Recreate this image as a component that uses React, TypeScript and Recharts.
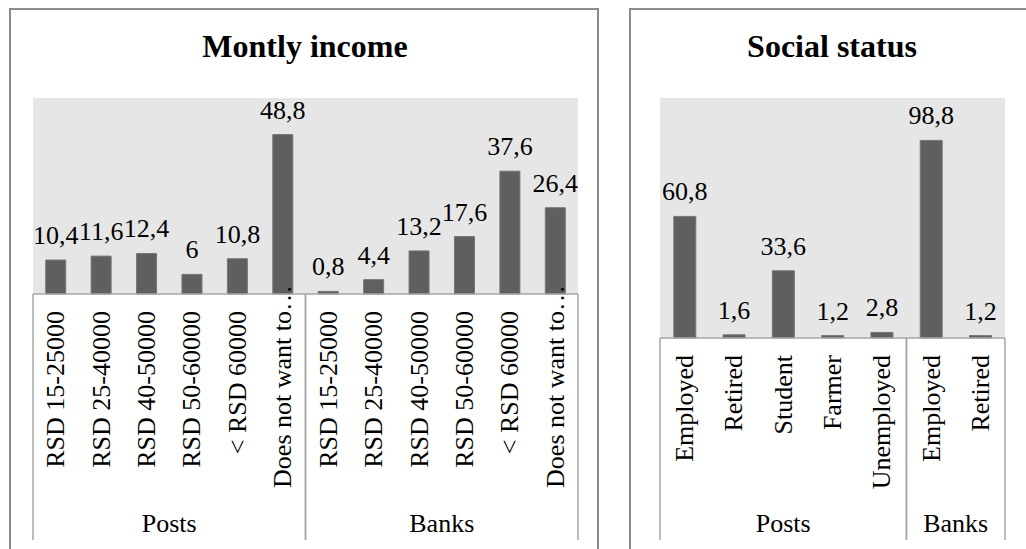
import { BarChart, Bar, XAxis, YAxis, CartesianGrid, LabelList } from 'recharts'

// Monthly income, % of respondents
const incomeCategories = ['RSD 15-25000', 'RSD 25-40000', 'RSD 40-50000', 'RSD 50-60000', '< RSD 60000', 'Does not want to…']
const incomePosts = [10.4, 11.6, 12.4, 6, 10.8, 48.8]
const incomeBanks = [0.8, 4.4, 13.2, 17.6, 37.6, 26.4]

// Social status, % of respondents
const statusPostsCategories = ['Employed', 'Retired', 'Student', 'Farmer', 'Unemployed']
const statusPosts = [60.8, 1.6, 33.6, 1.2, 2.8]
const statusBanksCategories = ['Employed', 'Retired']
const statusBanks = [98.8, 1.2]

type Row = { id: string; label: string; group: string; value: number }

function buildRows(groups: Array<{ name: string; labels: string[]; values: number[] }>): Row[] {
  return groups.flatMap((g) =>
    g.labels.map((label, i) => ({ id: `${g.name}-${i}`, label, group: g.name, value: g.values[i] }))
  )
}

const incomeRows = buildRows([
  { name: 'Posts', labels: incomeCategories, values: incomePosts },
  { name: 'Banks', labels: incomeCategories, values: incomeBanks },
])

const statusRows = buildRows([
  { name: 'Posts', labels: statusPostsCategories, values: statusPosts },
  { name: 'Banks', labels: statusBanksCategories, values: statusBanks },
])

const SERIF = "'Liberation Serif', 'Times New Roman', serif"
const AXIS_GRAY = '#a6a6a6'
const AXIS_BOTTOM = 540
const CHART_HEIGHT = 549

type PanelProps = {
  rows: Row[]
  left: number
  width: number
  plotLeft: number
  plotRight: number
  plotBottom: number
  yMax: number
}

function GroupedBarPanel({ rows, left, width, plotLeft, plotRight, plotBottom, yMax }: PanelProps) {
  const band = (plotRight - plotLeft) / rows.length

  // rotated category label plus the outer group row (separators and group name)
  const renderTick = (props: any) => {
    const { x, payload } = props
    const idx = rows.findIndex((r) => r.id === payload.value)
    if (idx < 0) return <g />
    const row = rows[idx]
    const first = idx === 0 || rows[idx - 1].group !== row.group
    const last = idx === rows.length - 1 || rows[idx + 1].group !== row.group
    const size = rows.filter((r) => r.group === row.group).length
    const ty = plotBottom + 17
    const truncated = row.label.endsWith('…')
    const text = truncated ? row.label.slice(0, -1) : row.label
    return (
      <g>
        <text
          x={x}
          y={ty}
          transform={`rotate(-90 ${x} ${ty})`}
          textAnchor="end"
          dominantBaseline="central"
          fontFamily={SERIF}
          fontSize={26}
          fill="#000"
        >
          {text}
        </text>
        {truncated && (
          <text
            x={x}
            y={ty}
            transform={`rotate(-90 ${x} ${ty})`}
            textAnchor="start"
            dominantBaseline="central"
            fontFamily={SERIF}
            fontSize={26}
            fill="#000"
          >
            …
          </text>
        )}
        {first && (
          <line x1={x - band / 2} x2={x - band / 2} y1={plotBottom} y2={AXIS_BOTTOM} stroke={AXIS_GRAY} strokeWidth={1.5} />
        )}
        {last && (
          <line x1={x + band / 2} x2={x + band / 2} y1={plotBottom} y2={AXIS_BOTTOM} stroke={AXIS_GRAY} strokeWidth={1.5} />
        )}
        {first && (
          <text
            x={x + ((size - 1) * band) / 2}
            y={AXIS_BOTTOM - 8}
            textAnchor="middle"
            fontFamily={SERIF}
            fontSize={26}
            fill="#000"
          >
            {row.group}
          </text>
        )}
      </g>
    )
  }

  return (
    <div style={{ position: 'absolute', left, top: 0 }}>
      <BarChart
        width={width}
        height={CHART_HEIGHT}
        data={rows}
        margin={{ top: 98, left: plotLeft, right: width - plotRight, bottom: CHART_HEIGHT - AXIS_BOTTOM }}
        barCategoryGap="28%"
      >
        <CartesianGrid fill="#e6e6e6" stroke="none" horizontal={false} vertical={false} />
        <XAxis
          dataKey="id"
          interval={0}
          height={AXIS_BOTTOM - plotBottom}
          tickLine={false}
          tickSize={0}
          tickMargin={0}
          axisLine={{ stroke: AXIS_GRAY, strokeWidth: 1.5 }}
          tick={renderTick}
        />
        <YAxis hide width={0} domain={[0, yMax]} />
        <Bar dataKey="value" fill="#5f5f5f" stroke="#767676" strokeWidth={1} isAnimationActive={false}>
          <LabelList
            dataKey="value"
            position="top"
            offset={16}
            formatter={(v: any) => String(v).replace('.', ',')}
            fontFamily={SERIF}
            fontSize={26}
            fill="#000"
          />
        </Bar>
      </BarChart>
    </div>
  )
}

export default function App() {
  return (
    <div style={{ position: 'absolute', left: 0, top: 0, width: 1026, height: 549, overflow: 'hidden', background: '#fff' }}>
      <div style={{ position: 'absolute', left: 9, top: 8, width: 590, height: 600, border: '2px solid #8c8c8c', boxSizing: 'border-box' }} />
      <div style={{ position: 'absolute', left: 629, top: 8, width: 500, height: 600, border: '2px solid #8c8c8c', boxSizing: 'border-box' }} />
      <svg width={1026} height={549} style={{ position: 'absolute', left: 0, top: 0 }}>
        <text x={305} y={57} textAnchor="middle" fontFamily={SERIF} fontSize={32} fontWeight="bold" fill="#000">
          Montly income
        </text>
        <text x={832} y={57} textAnchor="middle" fontFamily={SERIF} fontSize={32} fontWeight="bold" fill="#000">
          Social status
        </text>
      </svg>
      <GroupedBarPanel rows={incomeRows} left={0} width={598} plotLeft={33} plotRight={578} plotBottom={294} yMax={60} />
      <GroupedBarPanel rows={statusRows} left={630} width={396} plotLeft={30} plotRight={375} plotBottom={338} yMax={120} />
    </div>
  )
}
